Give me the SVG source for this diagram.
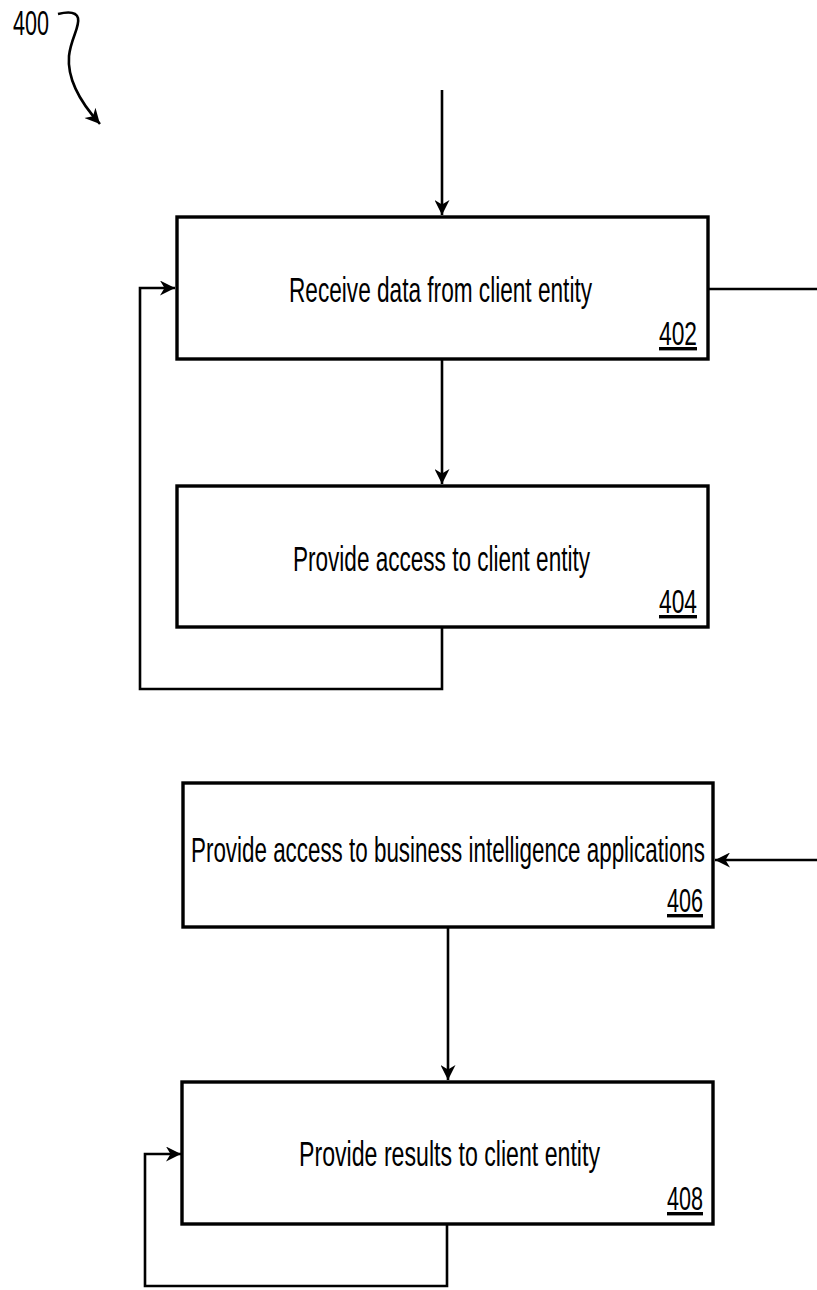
<svg xmlns="http://www.w3.org/2000/svg" width="817" height="1290" viewBox="0 0 817 1290">
<style>
.box{fill:#fff;stroke:#000;stroke-width:3.4}
.ln{fill:none;stroke:#000;stroke-width:2.6}
.t{font-family:"Liberation Sans",Arial,sans-serif;font-size:35px;fill:#000}
.n{font-family:"Liberation Sans",Arial,sans-serif;font-size:34px;fill:#000;text-decoration:underline}
</style>
<defs>
<marker id="ah" viewBox="0 0 10 10" refX="10" refY="5" markerWidth="18" markerHeight="15" markerUnits="userSpaceOnUse" orient="auto">
<path d="M0,0 L10,5 L0,10 L3,5 Z" fill="#000"/>
</marker>
</defs>
<rect width="817" height="1290" fill="#fff"/>
<g id="label400">
<text class="t" x="13" y="35" font-size="31" textLength="36" lengthAdjust="spacingAndGlyphs">400</text>
<path class="ln" d="M58,14 C66,12 76,11 78,18 C80,27 71,38 69,56 C67,80 80,102 100,124" marker-end="url(#ah)"/>
</g>
<g id="connectors">
<line class="ln" x1="442" y1="90" x2="442" y2="215" marker-end="url(#ah)"/>
<line class="ln" x1="442" y1="359" x2="442" y2="484" marker-end="url(#ah)"/>
<line class="ln" x1="708" y1="289" x2="817" y2="289"/>
<polyline class="ln" points="442,627 442,689 140,689 140,288 175,288" marker-end="url(#ah)"/>
<line class="ln" x1="817" y1="860" x2="715" y2="860" marker-end="url(#ah)"/>
<line class="ln" x1="448" y1="927" x2="448" y2="1080" marker-end="url(#ah)"/>
<polyline class="ln" points="447,1224 447,1286 145,1286 145,1154 181,1154" marker-end="url(#ah)"/>
</g>
<g id="node402">
<rect class="box" x="177" y="217" width="531" height="142"/>
<text class="t" x="289" y="302" textLength="303" lengthAdjust="spacingAndGlyphs">Receive data from client entity</text>
<text class="n" x="659" y="345" textLength="38" lengthAdjust="spacingAndGlyphs">402</text>
</g>
<g id="node404">
<rect class="box" x="177" y="486" width="531" height="141"/>
<text class="t" x="293" y="571" textLength="297" lengthAdjust="spacingAndGlyphs">Provide access to client entity</text>
<text class="n" x="659" y="613" textLength="38" lengthAdjust="spacingAndGlyphs">404</text>
</g>
<g id="node406">
<rect class="box" x="183" y="783" width="530" height="144"/>
<text class="t" x="191" y="862" textLength="514" lengthAdjust="spacingAndGlyphs">Provide access to business intelligence applications</text>
<text class="n" x="667" y="912" textLength="36" lengthAdjust="spacingAndGlyphs">406</text>
</g>
<g id="node408">
<rect class="box" x="182" y="1082" width="531" height="142"/>
<text class="t" x="299" y="1166" textLength="301" lengthAdjust="spacingAndGlyphs">Provide results to client entity</text>
<text class="n" x="667" y="1210" textLength="36" lengthAdjust="spacingAndGlyphs">408</text>
</g>
</svg>
